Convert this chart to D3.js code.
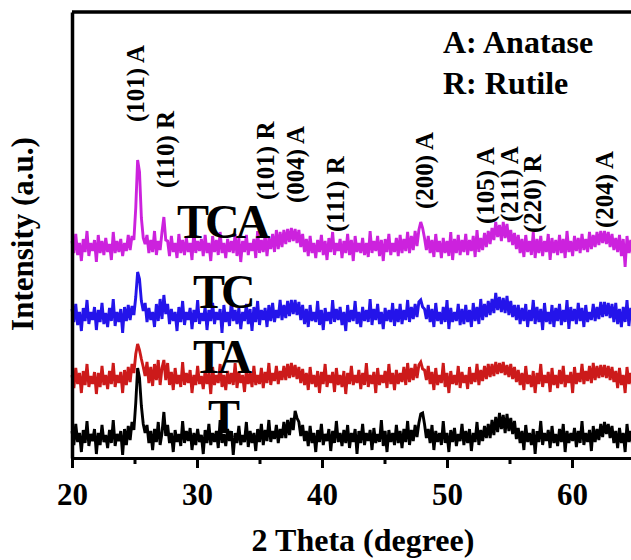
<!DOCTYPE html>
<html>
<head>
<meta charset="utf-8">
<script src="https://cdn.jsdelivr.net/npm/d3@7"></script>
<style>
  html, body { margin: 0; padding: 0; background: #fff; }
  svg { display: block; }
  text { font-family: "Liberation Serif", "Times New Roman", serif; font-weight: bold; fill: #000; }
</style>
</head>
<body>
<svg id="chart" width="631" height="560"></svg>
<script>
// ---------- DATA ----------
// 2θ sampling grid of the diffraction scans (degrees)
const thetaStart = 20;
const thetaStep = 0.15;

// sample names (bottom to top) and vertical stacking offsets (a.u.)
const sampleNames = ["T", "TA", "TC", "TCA"];
const sampleOffsets = [0, 58, 121, 190];

// intensities (a.u.), one value per 0.15° step from 20° to 65°
const intensityT = [
  27,13,34,16,25,6,28,15,37,12,
  24,17,29,4,25,13,33,16,23,10,
  28,15,38,12,24,17,27,3,29,13,
  32,18,36,28,
  55,90,80,52,34,
  25,33,15,27,8,29,16,36,13,25,
  46,22,
  33,15,25,6,28,16,24,12,37,15,
  27,17,30,8,25,13,29,16,23,4,
  28,15,34,13,25,16,27,10,38,15,
  24,12,29,17,27,3,25,15,32,13,
  23,16,36,11,27,15,25,7,29,16,
  34,13,28,17,38,16,27,19,33,15,29,20,
  36,20,38,23,40,28,47,40,36,22,33,
  17,27,12,32,15,25,6,28,16,34,
  13,24,17,29,7,27,15,37,16,25,
  12,28,15,33,10,25,16,29,4,27,
  15,34,13,25,17,28,8,30,15,24,
  16,38,12,27,6,28,16,25,13,33,
  15,27,10,29,16,37,13,28,17,33,21,35,
  44,45,34,20,
  29,15,33,8,27,16,25,13,37,15,
  25,6,28,16,30,12,24,17,34,13,
  27,15,29,7,25,16,36,13,28,17,32,20,34,
  20,38,23,41,26,45,29,43,25,44,27,40,24,37,19,
  30,15,27,8,33,16,25,13,29,4,27,16,
  37,13,25,17,28,10,32,15,24,12,
  29,16,34,6,27,15,25,17,30,11,
  27,15,37,13,25,16,28,7,32,16,
  29,18,34,21,36,24,34,20,32,15,
  27,10,30,15,25,6,34,16,27,13,29
];
const intensityTA = [
  25,12,32,16,27,7,29,15,36,13,
  24,16,28,6,27,13,34,15,25,11,
  29,16,37,13,25,17,28,7,30,15,
  33,18,36,27,
  46,56,50,41,33,
  24,38,17,33,14,36,20,40,15,32,
  40,20,
  37,15,28,10,32,16,25,13,38,15,
  27,17,30,7,25,15,34,16,24,11,
  29,16,27,6,33,15,25,17,36,13,
  25,10,29,16,27,15,37,12,28,17,
  25,8,30,16,27,13,34,15,25,16,
  32,12,28,17,37,15,27,19,34,16,29,20,
  34,20,36,22,37,23,35,21,33,17,31,
  15,27,10,33,16,25,13,29,7,28,
  16,36,13,25,17,28,8,32,15,25,
  13,29,6,27,16,34,15,25,17,30,
  11,27,15,37,13,25,16,28,7,32,
  15,25,17,29,12,36,16,27,10,30,
  16,27,18,33,15,37,18,32,20,36,22,35,
  38,31,30,20,
  34,16,28,10,32,15,25,17,37,13,
  27,7,29,16,25,15,34,12,28,17,
  25,11,33,16,27,18,36,15,30,19,34,21,36,
  23,36,24,38,26,37,27,38,25,35,23,36,21,33,18,
  30,15,27,10,34,16,25,13,29,7,27,16,
  36,13,25,17,28,8,32,15,25,12,
  30,16,34,13,25,17,28,7,33,16,
  27,18,36,16,29,19,34,17,37,20,
  34,22,35,23,35,22,34,20,33,18,
  29,12,32,15,25,7,33,16,27,13,29
];
const intensityTC = [
  28,15,33,12,25,6,29,16,37,13,
  25,17,30,7,27,15,34,13,24,10,
  29,16,38,11,25,15,28,4,30,16,
  32,17,31,22,
  40,65,58,36,26,
  34,15,29,17,25,10,33,16,38,18,
  42,23,
  33,13,28,16,25,6,30,15,36,12,
  25,17,29,8,27,15,37,13,24,16,
  30,7,27,16,34,13,25,17,28,4,
  32,15,25,11,37,16,27,13,29,8,
  25,16,33,13,28,6,30,15,36,12,
  27,17,29,10,32,16,34,15,27,19,37,17,
  32,19,36,21,37,23,37,22,35,17,32,
  13,28,10,32,16,25,15,36,12,27,
  7,29,16,25,13,37,15,28,17,30,
  12,25,6,32,15,27,16,36,13,25,
  10,30,16,27,15,38,12,28,17,33,
  13,25,8,29,16,27,15,34,11,28,
  15,33,13,27,17,37,15,30,18,33,20,35,
  37,30,28,18,
  32,15,28,10,34,16,25,13,30,15,
  37,8,29,15,25,16,33,12,28,13,
  32,15,27,10,34,16,30,13,38,17,33,20,36,
  22,38,24,44,27,40,25,39,24,41,22,36,20,32,17,
  32,13,29,16,33,10,27,16,37,13,30,15,
  28,7,34,15,25,13,32,10,29,16,
  33,12,27,15,37,8,30,16,28,13,
  34,16,29,10,32,15,25,17,33,16,
  30,18,35,20,35,21,34,19,33,15,
  34,13,28,10,30,15,37,11,29,16,32
];
const intensityTCA = [
  27,15,34,13,25,7,29,16,37,12,
  25,17,28,6,33,15,27,13,30,16,
  24,8,36,15,27,16,29,12,25,17,
  33,18,32,28,
  60,108,96,50,30,
  24,33,15,28,16,37,13,27,18,36,
  51,28,
  27,12,32,16,25,10,34,15,28,13,
  30,16,25,8,37,15,27,17,29,12,
  33,15,25,7,32,16,28,13,36,15,
  25,10,29,16,27,15,34,12,30,6,
  27,16,33,13,25,17,29,10,37,15,
  28,16,33,12,30,19,34,16,38,19,36,21,
  38,24,39,26,40,27,39,25,38,21,34,
  16,29,12,32,15,25,10,28,16,33,
  13,27,8,30,16,36,13,25,17,29,
  10,27,15,34,13,28,7,32,16,25,
  15,30,13,25,11,37,15,27,17,32,
  12,28,7,29,16,34,13,25,16,30,
  12,33,15,29,17,36,15,32,18,37,22,38,
  46,40,30,18,
  32,15,28,11,34,16,27,10,30,15,
  27,12,36,8,29,15,33,13,28,16,
  34,13,28,17,32,11,38,16,30,18,35,21,37,
  24,40,28,46,31,43,27,46,30,44,26,38,23,35,19,
  33,15,29,11,33,16,27,13,36,10,29,15,
  32,12,27,16,34,8,30,15,28,13,
  33,15,29,10,37,16,27,12,32,17,
  30,15,34,18,29,16,36,19,33,21,
  36,23,37,25,37,24,36,21,34,18,
  30,16,33,12,29,1,32,15,28,12,30
];
const sampleIntensities = [intensityT, intensityTA, intensityTC, intensityTCA];

// reflection labels: text, 2θ position (deg), level of label start (a.u.)
const peakLabels = ["(101) A", "(110) R", "(101) R", "(004) A", "(111) R",
                    "(200) A", "(105) A", "(211) A", "(220) R", "(204) A"];
const peakAngles = [25.04, 27.44, 35.44, 37.84, 41.04, 48.16, 53.1, 54.96, 56.8, 62.56];
const peakLabelLevels = [336, 270, 258, 255, 226, 249, 234, 236, 225, 230];

// phase key
const phaseKey = ["A: Anatase", "R: Rutile"];

// axis ticks
const majorTicks = [20, 30, 40, 50, 60];
const minorTicks = [25, 35, 45, 55, 65];
const xTitle = "2 Theta (degree)";
const yTitle = "Intensity (a.u.)";

// ---------- STYLE / LAYOUT ----------
const colors = ["#000000", "#cc1a1a", "#2414ea", "#cc22dd"];
const plot = { left: 72, right: 634.5, top: 12, bottom: 458 };

const svg = d3.select("#chart");
const x = d3.scaleLinear().domain([20, 65]).range([plot.left, plot.right]);
const y = d3.scaleLinear().domain([0, 446]).range([plot.bottom, plot.top]);

// ---------- TRACES ----------
const line = d3.line()
  .x(d => x(d.theta))
  .y(d => y(d.value));

const order = [3, 2, 1, 0]; // draw TCA first, black last
order.forEach(k => {
  const pts = sampleIntensities[k].map((v, i) => ({
    theta: thetaStart + i * thetaStep,
    value: v + sampleOffsets[k]
  }));
  svg.append("path")
    .datum(pts)
    .attr("fill", "none")
    .attr("stroke", colors[k])
    .attr("stroke-width", 2.9)
    .attr("stroke-linejoin", "miter")
    .attr("stroke-miterlimit", 3)
    .attr("d", line);
});

// ---------- AXES ----------
const xAxis = d3.axisBottom(x).tickValues(majorTicks).tickSize(10).tickSizeOuter(0).tickPadding(15)
  .tickFormat(d3.format("d"));
const gx = svg.append("g").attr("transform", `translate(0,${plot.bottom})`).call(xAxis);
gx.select(".domain").attr("stroke-width", 3);
gx.selectAll(".tick line").attr("stroke-width", 3);
gx.selectAll(".tick text")
  .style("font-size", "31px")
  .style("font-family", "'Liberation Serif', 'Times New Roman', serif")
  .style("font-weight", "bold")
  .attr("fill", "#000");

const xMinor = d3.axisBottom(x).tickValues(minorTicks).tickSize(6).tickSizeOuter(0).tickFormat("");
const gm = svg.append("g").attr("transform", `translate(0,${plot.bottom})`).call(xMinor);
gm.select(".domain").remove();
gm.selectAll(".tick line").attr("stroke-width", 3);

const yAxis = d3.axisLeft(y).tickValues([]).tickSizeOuter(0);
const gy = svg.append("g").attr("transform", `translate(${plot.left},0)`).call(yAxis);
gy.select(".domain").attr("stroke-width", 3.5);

// top frame
svg.append("line")
  .attr("x1", plot.left).attr("x2", plot.right)
  .attr("y1", plot.top).attr("y2", plot.top)
  .attr("stroke", "#000").attr("stroke-width", 3.5);

// axis titles
svg.append("text")
  .attr("x", 363).attr("y", 551)
  .attr("text-anchor", "middle")
  .style("font-size", "32px")
  .text(xTitle);

svg.append("text")
  .attr("transform", `translate(33,234) rotate(-90)`)
  .attr("text-anchor", "middle")
  .style("font-size", "31px")
  .text(yTitle);

// ---------- ANNOTATIONS ----------
peakLabels.forEach((t, i) => {
  svg.append("text")
    .attr("transform", `translate(${x(peakAngles[i])},${y(peakLabelLevels[i])}) rotate(-90)`)
    .attr("dy", "0.34em")
    .attr("text-anchor", "start")
    .style("font-size", "25px")
    .text(t);
});

phaseKey.forEach((t, i) => {
  svg.append("text")
    .attr("x", 443).attr("y", 53 + i * 41)
    .style("font-size", "32px")
    .text(t);
});

// sample names near their traces
const nameX = [208, 193, 193, 177];
const nameY = [433, 373, 308, 238];
sampleNames.forEach((n, k) => {
  svg.append("text")
    .attr("x", nameX[k]).attr("y", nameY[k])
    .style("font-size", "48px")
    .style("letter-spacing", "-4px")
    .text(n);
});
</script>
</body>
</html>
